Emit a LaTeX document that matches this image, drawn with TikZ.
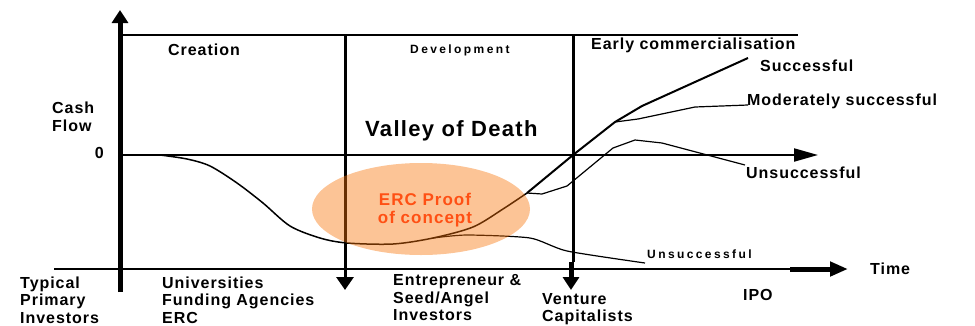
\documentclass[tikz,border=0pt]{standalone}
\usepackage{fontspec}
\setmainfont{Liberation Sans}
\newfontfamily\wide[LetterSpace=6]{Liberation Sans}
\newfontfamily\wider[LetterSpace=20]{Liberation Sans}
\usetikzlibrary{positioning}
\usetikzlibrary{arrows.meta}
\usetikzlibrary{shapes.geometric}
\definecolor{blob}{RGB}{248,114,5}
\definecolor{erc}{RGB}{255,80,20}
\tikzstyle{phase} = [font=\wide\bfseries\fontsize{16}{17.5}\selectfont, align=left, anchor=west, inner sep=0pt]
\tikzstyle{small phase} = [phase, font=\wider\bfseries\fontsize{12}{13}\selectfont]
\tikzstyle{gridline} = [line width=2pt]
\tikzstyle{stageline} = [line width=3pt]
\tikzstyle{flowline} = [line width=1.2pt, line join=round]
\tikzstyle{boldflow} = [line width=2pt, line join=round]

\begin{document}
\begin{tikzpicture}[x=1pt,y=-1pt]
    \useasboundingbox (0,0) rectangle (975,325);
    \coordinate (ybot) at (120,292);
    \coordinate (ytop) at (120,10);
    \coordinate (topl) at (120,35);
    \coordinate (topr) at (798,35);
    \coordinate (zerol) at (120,155);
    \coordinate (zeror) at (818,155);
    \coordinate (timel) at (54,269);
    \coordinate (timem) at (790,269);
    \coordinate (timer) at (848,269);
    \coordinate (dev) at (345,35);
    \coordinate (devend) at (345,290);
    \coordinate (com) at (573,35);
    \coordinate (comshaft) at (571,262);
    \coordinate (comend) at (571,290);
    \coordinate (split) at (527,193);
    \coordinate (lowsplit) at (433,238);
    \coordinate (peak) at (615,122);

    % axes and stage lines
    \draw[line width=5pt, -{Triangle[length=13pt,width=16pt]}] (ybot) -- (ytop);
    \draw[gridline] (topl) -- (topr);
    \draw[gridline, -{Triangle[length=24pt,width=13pt]}] (zerol) -- (zeror);
    \draw[gridline] (timel) -- (timem);
    \draw[line width=5pt, -{Triangle[length=18pt,width=14pt]}] (timem) -- (timer);
    \draw[stageline, -{Triangle[length=13pt,width=17pt]}] (dev) -- (devend);
    \draw[stageline] (com) -- (573,262);
    \draw[line width=5pt, -{Triangle[length=13pt,width=16pt]}] (comshaft) -- (comend);

    % cash flow curves
    \draw[flowline, line width=1.5pt] plot[smooth, tension=0.5] coordinates {(160,155) (187,159) (210,166) (237,183) (263,203) (290,226) (320,238) (347,243) (393,244) (433,238) (473,227) (503,209) (527,193)};
    \draw[boldflow] (split) -- (573,155) -- (peak) -- (642,106) -- (748,58);
    \draw[flowline] (peak) -- (638,119) -- (695,107) -- (748,105);
    \draw[flowline] (split) -- (542,194) -- (567,186) -- (613,148) -- (635,140) -- (662,143) -- (745,165);
    \draw[flowline] plot[smooth, tension=0.4] coordinates {(433,238) (467,235) (530,238) (567,251) (645,263)};

    \fill[blob, fill opacity=0.42] (421,209) ellipse [x radius=109, y radius=46];
    \node[font=\wide\bfseries\fontsize{17}{18.5}\selectfont, text=erc, align=center, inner sep=0pt] (erc) at (425,210) {ERC Proof\\of concept};

    \node[phase] (creation) at (168,50) {Creation};
    \node[small phase] (development) at (410,50) {Development};
    \node[phase] (early) at (591,45) {Early commercialisation};
    \node[phase] (success) at (760,66) {Successful};
    \node[phase] (moderate) at (747,101) {Moderately successful};
    \node[phase] (unsuccess) at (746,173) {Unsuccessful};
    \node[small phase] (failure) at (647,254) {Unsuccessful};
    \node[phase] (cashflow) at (52,117) {Cash\\Flow};
    \node[phase, anchor=east] (zero) at (104,153) {0};
    \node[phase, font=\wide\bfseries\fontsize{22}{24}\selectfont] (valley) at (365,131) {Valley of Death};
    \node[phase, right=22pt of timer] (time) {Time};
    \node[phase] (ipo) at (743,295) {IPO};
    \node[phase] (typical) at (20,300) {Typical\\Primary\\Investors};
    \node[phase] (universities) at (162,300) {Universities\\Funding Agencies\\ERC};
    \node[phase] (entrepreneur) at (393,298) {Entrepreneur \&\\Seed/Angel\\Investors};
    \node[phase] (venture) at (542,309) {Venture\\Capitalists};
\end{tikzpicture}
\end{document}
